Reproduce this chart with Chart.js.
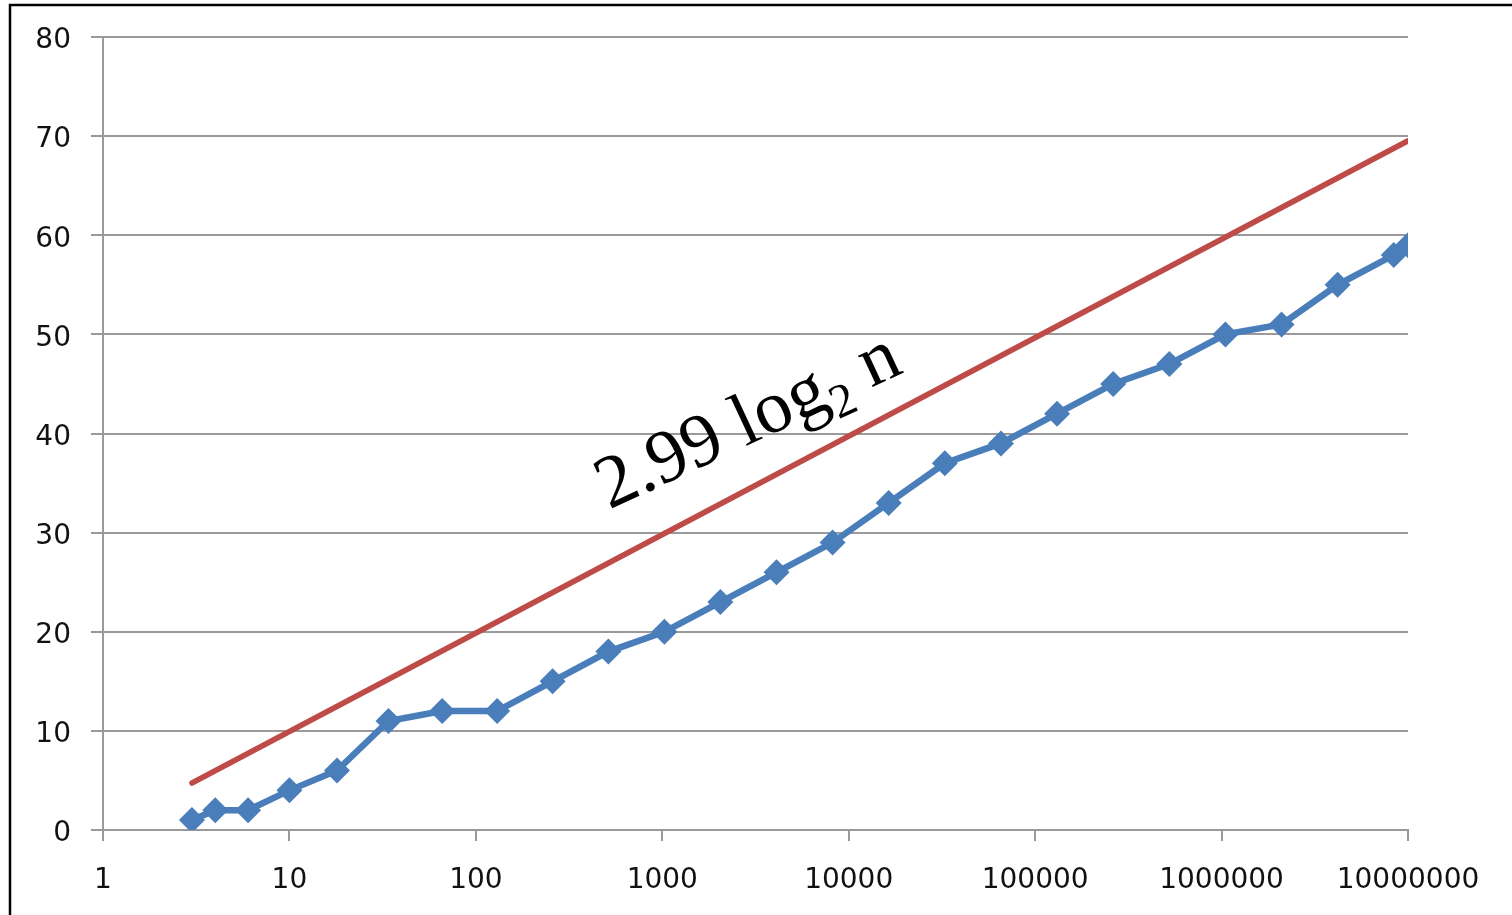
<!DOCTYPE html>
<html><head><meta charset="utf-8">
<script src="https://cdn.jsdelivr.net/npm/chart.js@4.4.1/dist/chart.umd.min.js"></script>
<style>html,body{margin:0;padding:0;background:#fff}#wrap{width:1512px;height:915px;position:relative}</style>
</head><body><div id="wrap"><canvas id="c" width="1512" height="915"></canvas></div>
<script>
const nValues = [3,4,6,10,18,34,66,130,258,514,1026,2050,4098,8194,16386,32770,65538,131074,262146,524290,1048578,2097154,4194306,8388610,10000000];
const steps = [1,2,2,4,6,11,12,12,15,18,20,23,26,29,33,37,39,42,45,47,50,51,55,58,59];
const boundN = [3,10000000];
const boundY = [4.74,69.53];
const xTicks = [1,10,100,1000,10000,100000,1000000,10000000];
const yTicks = [0,10,20,30,40,50,60,70,80];
const annotationText = ['2.99 log', '2', ' n'];

const frame = {
  id:'frame',
  afterDraw(chart){
    const ctx = chart.ctx;
    ctx.save();
    ctx.strokeStyle = '#000'; ctx.lineWidth = 2.5;
    ctx.beginPath();
    ctx.moveTo(10,920); ctx.lineTo(10,5); ctx.lineTo(1520,5);
    ctx.stroke();
    // annotation
    const xs = chart.scales.x, ys = chart.scales.y;
    const px = xs.getPixelForValue(520), py = ys.getPixelForValue(32.3);
    ctx.translate(px,py);
    ctx.rotate(-25*Math.PI/180);
    ctx.fillStyle = '#000';
    ctx.textBaseline = 'alphabetic';
    ctx.font = '75px "Liberation Serif"';
    let x = 0;
    ctx.fillText(annotationText[0], x, 0); x += ctx.measureText(annotationText[0]).width;
    ctx.font = '48px "Liberation Serif"';
    ctx.fillText(annotationText[1], x, 15); x += ctx.measureText(annotationText[1]).width;
    ctx.font = '75px "Liberation Serif"';
    ctx.fillText(annotationText[2], x, 0);
    ctx.restore();
  }
};

new Chart(document.getElementById('c'), {
  type:'line',
  data:{datasets:[
    {data: nValues.map((n,i)=>({x:n,y:steps[i]})), borderColor:'#4A7EBB', backgroundColor:'#4A7EBB', borderWidth:6.5, pointStyle:'rectRot', pointRadius:13, pointBorderWidth:0, tension:0, order:1},
    {data: boundN.map((n,i)=>({x:n,y:boundY[i]})), borderColor:'#BE4B48', borderWidth:5.5, pointRadius:0, tension:0, borderCapStyle:'round', order:2}
  ]},
  options:{
    responsive:false, animation:false, devicePixelRatio:1,
    layout:{padding:{left:10,right:104,top:37,bottom:0}},
    plugins:{legend:{display:false}, tooltip:{enabled:false}},
    scales:{
      x:{type:'logarithmic', min:1, max:10000000,
        afterBuildTicks(s){ s.ticks = xTicks.map(v=>({value:v})); },
        afterFit(s){ s.height = 85; },
        ticks:{autoSkip:false, maxRotation:0, color:'#111', font:{family:'DejaVu Sans', size:28}, padding:23, callback:(v)=>String(v)},
        grid:{drawOnChartArea:false, drawTicks:true, tickLength:11, color:'#9a9a9a', lineWidth:2},
        border:{color:'#9a9a9a', width:2}
      },
      y:{type:'linear', min:0, max:80,
        afterBuildTicks(s){ s.ticks = yTicks.map(v=>({value:v})); },
        afterFit(s){ s.width = 93; },
        ticks:{color:'#111', font:{family:'DejaVu Sans', size:28}, padding:20, labelOffset:4},
        grid:{color:'#9a9a9a', lineWidth:2, tickLength:12, drawTicks:true},
        border:{color:'#9a9a9a', width:2}
      }
    }
  },
  plugins:[frame]
});
</script></body></html>
